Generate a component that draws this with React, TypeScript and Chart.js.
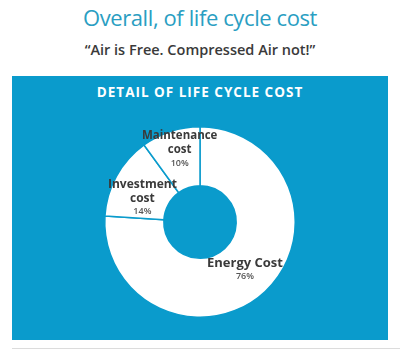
import React, { useEffect, useRef } from "react";
import { Chart, registerables } from "chart.js";

Chart.register(...registerables);

const pageTitle = "Overall, of life cycle cost";
const pageSubtitle = "\u201CAir is Free. Compressed Air not!\u201D";
const boxTitle = "DETAIL OF LIFE CYCLE COST";

const categories = ["Energy Cost", "Investment cost", "Maintenance cost"];
const nameLines = [["Energy Cost"], ["Investment", "cost"], ["Maintenance", "cost"]];
const shares = [76, 14, 10];
const percentLabels = ["76%", "14%", "10%"];

const BLUE = "#0a9bcc";
const FONT = "'Open Sans', sans-serif";

// style-only nudges for label blocks (px), relative to slice mid-point
const labelNudgeY = [0, 8, -10];
const nameFontSize = [13, 12, 11.5];

const labelPlugin = {
  id: "sliceLabels",
  afterDatasetsDraw(chart: any) {
    const ctx = chart.ctx;
    const meta = chart.getDatasetMeta(0);
    meta.data.forEach((arc: any, i: number) => {
      const pos = arc.tooltipPosition();
      const lines = nameLines[i];
      const nameStep = 14;
      const pctStep = 13;
      const total = (lines.length - 1) * nameStep + pctStep;
      let y = pos.y + labelNudgeY[i] - total / 2;
      ctx.save();
      ctx.textAlign = "center";
      ctx.textBaseline = "middle";
      ctx.fillStyle = "#3a3a3a";
      ctx.font = `bold ${nameFontSize[i]}px ${FONT}`;
      lines.forEach((ln, k) => {
        ctx.fillText(ln, pos.x, y + k * nameStep);
      });
      ctx.font = `600 9px ${FONT}`;
      ctx.fillStyle = "#555";
      ctx.fillText(percentLabels[i], pos.x, y + (lines.length - 1) * nameStep + pctStep);
      ctx.restore();
    });
  },
};

export default function App() {
  const ref = useRef<HTMLCanvasElement>(null);
  useEffect(() => {
    if (!ref.current) return;
    const chart = new Chart(ref.current, {
      type: "doughnut",
      data: {
        labels: categories,
        datasets: [
          {
            data: shares,
            backgroundColor: "#ffffff",
            borderColor: BLUE,
            borderWidth: 1.5,
            hoverOffset: 0,
          },
        ],
      },
      options: {
        animation: false,
        responsive: false,
        maintainAspectRatio: false,
        cutout: "38%",
        rotation: 0,
        layout: { padding: { top: 50, bottom: 22, left: 0, right: 0 } },
        plugins: {
          legend: { display: false },
          tooltip: { enabled: false },
          title: { display: false },
        },
        events: [],
      },
      plugins: [labelPlugin],
    });
    return () => chart.destroy();
  }, []);

  return (
    <div
      style={{
        position: "fixed",
        left: 0,
        top: 0,
        width: 400,
        height: 357,
        background: "#fff",
        fontFamily: FONT,
        overflow: "hidden",
      }}
    >
      <div
        style={{
          position: "absolute",
          left: 0,
          width: 400,
          top: 2,
          textAlign: "center",
          fontSize: 22,
          letterSpacing: -0.4,
          color: "#2a9ec2",
          lineHeight: "30px",
        }}
      >
        {pageTitle}
      </div>
      <div
        style={{
          position: "absolute",
          left: 0,
          width: 400,
          top: 40,
          textAlign: "center",
          fontSize: 14.5,
          fontWeight: 600,
          color: "#3a3a3a",
          lineHeight: "20px",
        }}
      >
        {pageSubtitle}
      </div>
      <div
        style={{
          position: "absolute",
          left: 12,
          top: 76,
          width: 376,
          height: 264,
          background: BLUE,
        }}
      >
        <div
          style={{
            position: "absolute",
            left: 0,
            width: 376,
            top: 6,
            textAlign: "center",
            fontSize: 13.5,
            fontWeight: 700,
            color: "#fff",
            letterSpacing: 1,
            lineHeight: "20px",
          }}
        >
          {boxTitle}
        </div>
        <canvas ref={ref} width={376} height={264} style={{ position: "absolute", left: 0, top: 0 }} />
      </div>
      <div
        style={{
          position: "absolute",
          left: 12,
          top: 348,
          width: 388,
          height: 1,
          background: "#dcdcdc",
        }}
      />
    </div>
  );
}
